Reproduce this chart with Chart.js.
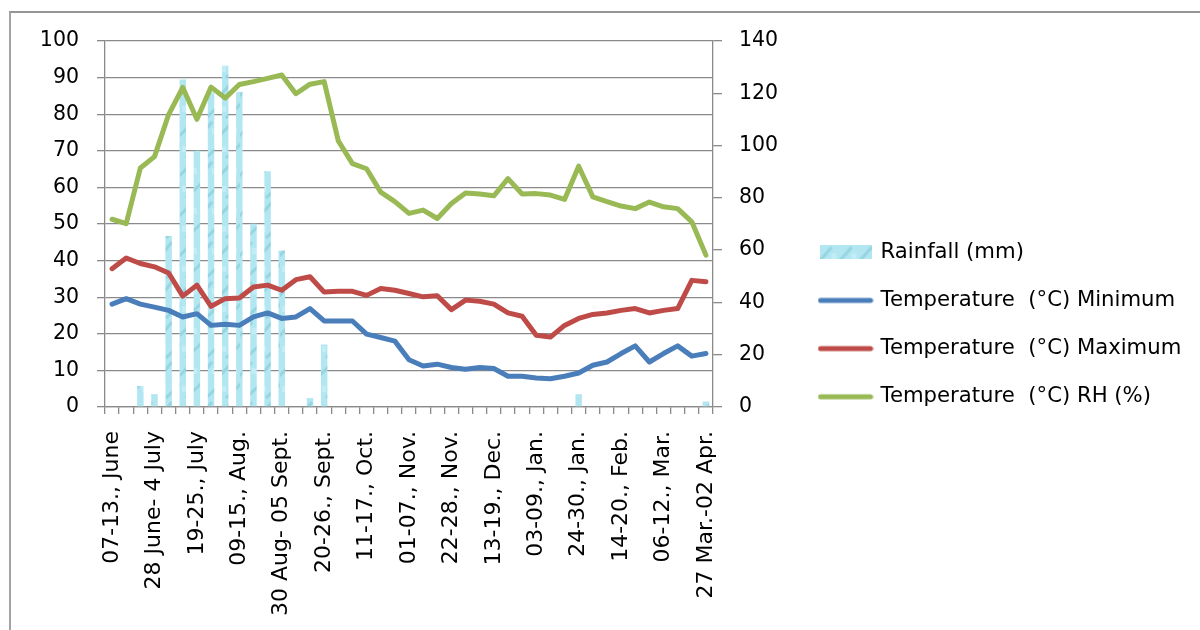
<!DOCTYPE html>
<html>
<head>
<meta charset="utf-8">
<script src="https://cdn.jsdelivr.net/npm/chart.js@4/dist/chart.umd.min.js"></script>
<style>
  html, body { margin: 0; padding: 0; background: #fff; overflow: hidden; }
  #wrap { position: relative; width: 1200px; height: 630px; }
  #frame { position: absolute; left: 9px; top: 11px; width: 1300px; height: 700px;
           border-top: 2px solid #959595; border-left: 2px solid #a3a3a3; }
  canvas { position: absolute; left: 0; top: 0; }
</style>
</head>
<body>
<div id="wrap">
  <div id="frame"></div>
  <canvas id="weatherChart" width="1200" height="630"></canvas>
</div>
<script>
// weekly weather data, June to April
const weeks = [
    '07-13., June', '14-20., June', '21-27., June', '28 June- 4 July', '05-11., July',
    '12-18., July', '19-25., July', '26 July- 01 Aug.', '02-08., Aug.', '09-15., Aug.',
    '16-22., Aug.', '23-29., Aug.', '30 Aug- 05 Sept.', '06-12., Sept.', '13-19., Sept.',
    '20-26., Sept.', '27 Sept.- 03 Oct.', '04-10., Oct.', '11-17., Oct.', '18-24., Oct.',
    '25-31., Oct.', '01-07., Nov.', '08-14., Nov.', '15-21., Nov.', '22-28., Nov.',
    '29 Nov.- 05 Dec.', '06-12., Dec.', '13-19., Dec.', '20-26., Dec.', '27 Dec.- 02 Jan.',
    '03-09., Jan.', '10-16., Jan.', '17-23., Jan.', '24-30., Jan.', '31 Jan.- 06 Feb.',
    '07-13., Feb.', '14-20., Feb.', '21-27., Feb.', '28 Feb.- 05 Mar.', '06-12., Mar.',
    '13-19., Mar.', '20-26., Mar.', '27 Mar.-02 Apr.'
];

// rainfall in mm (right axis)
const rainfall = [
    0, 0, 8.0, 4.9, 65.4, 125.3, 98.0, 120.5, 130.5, 120.5,
    70.1, 90.2, 59.9, 0, 3.4, 23.9, 0, 0, 0, 0,
    0, 0, 0, 0, 0, 0, 0, 0, 0, 0,
    0, 0, 0, 4.9, 0, 0, 0, 0, 0, 0,
    0, 0, 2.1
];

const tempMin = [
    28.1, 29.6, 28.1, 27.3, 26.4, 24.6, 25.5, 22.3, 22.6, 22.3,
    24.6, 25.7, 24.2, 24.6, 26.9, 23.5, 23.5, 23.5, 19.9, 19.0,
    18.0, 12.9, 11.2, 11.7, 10.8, 10.3, 10.8, 10.5, 8.4, 8.4,
    7.9, 7.7, 8.4, 9.3, 11.4, 12.3, 14.6, 16.7, 12.3, 14.6,
    16.7, 13.9, 14.6
];

const tempMax = [
    37.8, 40.7, 39.2, 38.3, 36.6, 30.3, 33.3, 27.5, 29.6, 29.8,
    32.8, 33.3, 31.9, 34.8, 35.6, 31.4, 31.6, 31.6, 30.5, 32.4,
    31.9, 31.0, 30.1, 30.4, 26.6, 29.2, 28.9, 28.1, 25.7, 24.8,
    19.6, 19.1, 22.3, 24.2, 25.3, 25.7, 26.4, 26.9, 25.7, 26.4,
    26.9, 34.6, 34.2
];

const humidity = [
    51.3, 50.1, 65.3, 68.4, 79.9, 87.3, 78.6, 87.4, 84.4, 88.1,
    88.9, 89.8, 90.7, 85.6, 88.2, 88.9, 72.7, 66.5, 65.1, 58.7,
    56.1, 52.9, 53.8, 51.5, 55.6, 58.5, 58.2, 57.7, 62.4, 58.2,
    58.3, 57.9, 56.7, 65.8, 57.4, 56.1, 54.9, 54.2, 56.0, 54.7,
    54.2, 50.6, 41.5
];

const legendNames = [
    'Rainfall (mm)',
    'Temperature  (°C) Minimum',
    'Temperature  (°C) Maximum',
    'Temperature  (°C) RH (%)'
];

const BLUE = '#4a7ebb';
const RED = '#be4b48';
const GREEN = '#98b954';
const GRID = '#8a8a8a';
const FONT = 'DejaVu Sans';

// light cyan mottled texture for the rainfall bars
function makeTexture() {
    const c = document.createElement('canvas');
    c.width = 20;
    c.height = 40;
    const g = c.getContext('2d');
    g.fillStyle = '#b2e7f2';
    g.fillRect(0, 0, 20, 40);
    g.strokeStyle = 'rgba(115, 190, 205, 0.45)';
    g.lineWidth = 3;
    g.beginPath();
    g.moveTo(-3, 18); g.quadraticCurveTo(6, 10, 12, 2);
    g.moveTo(6, 38); g.quadraticCurveTo(14, 30, 23, 22);
    g.stroke();
    g.fillStyle = 'rgba(200, 240, 248, 0.7)';
    g.fillRect(12, 8, 5, 6);
    g.fillRect(2, 26, 4, 6);
    return c;
}

function lineMarker(color) {
    const c = document.createElement('canvas');
    c.width = 56;
    c.height = 8;
    const g = c.getContext('2d');
    g.strokeStyle = color;
    g.lineWidth = 5;
    g.lineCap = 'round';
    g.beginPath();
    g.moveTo(3, 4);
    g.lineTo(53, 4);
    g.stroke();
    return c;
}

function boxMarker(texture) {
    const c = document.createElement('canvas');
    c.width = 52;
    c.height = 14;
    const g = c.getContext('2d');
    g.fillStyle = g.createPattern(texture, 'repeat');
    g.fillRect(0, 0, 52, 14);
    return c;
}

const texture = makeTexture();
const barFill = document.createElement('canvas').getContext('2d').createPattern(texture, 'repeat');
const markers = [boxMarker(texture), lineMarker(BLUE), lineMarker(RED), lineMarker(GREEN)];

// fixed legend box so the plot area and legend keep their places
const legendBox = {
    id: 'legendBox',
    beforeLayout(chart) {
        const lg = chart.legend;
        if (lg && !lg._fixedWidth) {
            const fit = lg.fit;
            lg.fit = function () {
                fit.call(this);
                this.width = 406;
            };
            lg._fixedWidth = true;
        }
    },
    afterLayout(chart) {
        chart.legend.bottom = 608;
        chart.legend.height = chart.legend.bottom - chart.legend.top;
    }
};

const lineStyle = {
    type: 'line',
    borderWidth: 5,
    pointRadius: 0,
    tension: 0,
    borderCapStyle: 'round',
    borderJoinStyle: 'round',
    yAxisID: 'y',
    order: 1
};

new Chart(document.getElementById('weatherChart').getContext('2d'), {
    type: 'bar',
    data: {
        labels: weeks,
        datasets: [
            {
                type: 'bar',
                label: legendNames[0],
                data: rainfall,
                backgroundColor: barFill,
                borderWidth: 0,
                barPercentage: 0.46,
                categoryPercentage: 1,
                yAxisID: 'y1',
                order: 2
            },
            { ...lineStyle, label: legendNames[1], data: tempMin, borderColor: BLUE, backgroundColor: BLUE },
            { ...lineStyle, label: legendNames[2], data: tempMax, borderColor: RED, backgroundColor: RED },
            { ...lineStyle, label: legendNames[3], data: humidity, borderColor: GREEN, backgroundColor: GREEN }
        ]
    },
    plugins: [legendBox],
    options: {
        responsive: false,
        animation: false,
        layout: { padding: { left: 0, top: 41, right: 0, bottom: 0 } },
        plugins: {
            tooltip: { enabled: false },
            legend: {
                position: 'right',
                labels: {
                    usePointStyle: true,
                    pointStyleWidth: 49,
                    boxHeight: 21,
                    padding: 27,
                    color: '#000',
                    font: { family: FONT, size: 21.2 },
                    generateLabels: chart => chart.data.datasets.map((ds, i) => ({
                        text: ds.label,
                        pointStyle: markers[i],
                        datasetIndex: i,
                        hidden: false,
                        lineWidth: 0,
                        fillStyle: 'transparent',
                        strokeStyle: 'transparent',
                        fontColor: '#000'
                    }))
                }
            }
        },
        scales: {
            x: {
                grid: { offset: true, drawOnChartArea: false, tickLength: 7, color: GRID, lineWidth: 1.3 },
                border: { color: GRID, width: 1.3 },
                ticks: {
                    autoSkip: false,
                    minRotation: 90,
                    maxRotation: 90,
                    padding: 17,
                    color: '#000',
                    font: { family: FONT, size: 22 },
                    callback: (v, i) => (i % 3 === 0 ? weeks[i] : '')
                },
                afterFit: s => { s.height = 223; }
            },
            y: {
                position: 'left',
                min: 0,
                max: 100,
                grid: { color: GRID, lineWidth: 1.3, tickLength: 8 },
                border: { color: GRID, width: 1.3 },
                ticks: { stepSize: 10, padding: 18, color: '#000', font: { family: FONT, size: 20.5 } },
                afterFit: s => { s.width = 105; }
            },
            y1: {
                position: 'right',
                min: 0,
                max: 140,
                grid: { drawOnChartArea: false, color: GRID, lineWidth: 1.3, tickLength: 9 },
                border: { color: GRID, width: 1.3 },
                ticks: { stepSize: 20, padding: 17, color: '#000', font: { family: FONT, size: 20.5 } },
                afterFit: s => { s.width = 81; }
            }
        }
    }
});
</script>
</body>
</html>
